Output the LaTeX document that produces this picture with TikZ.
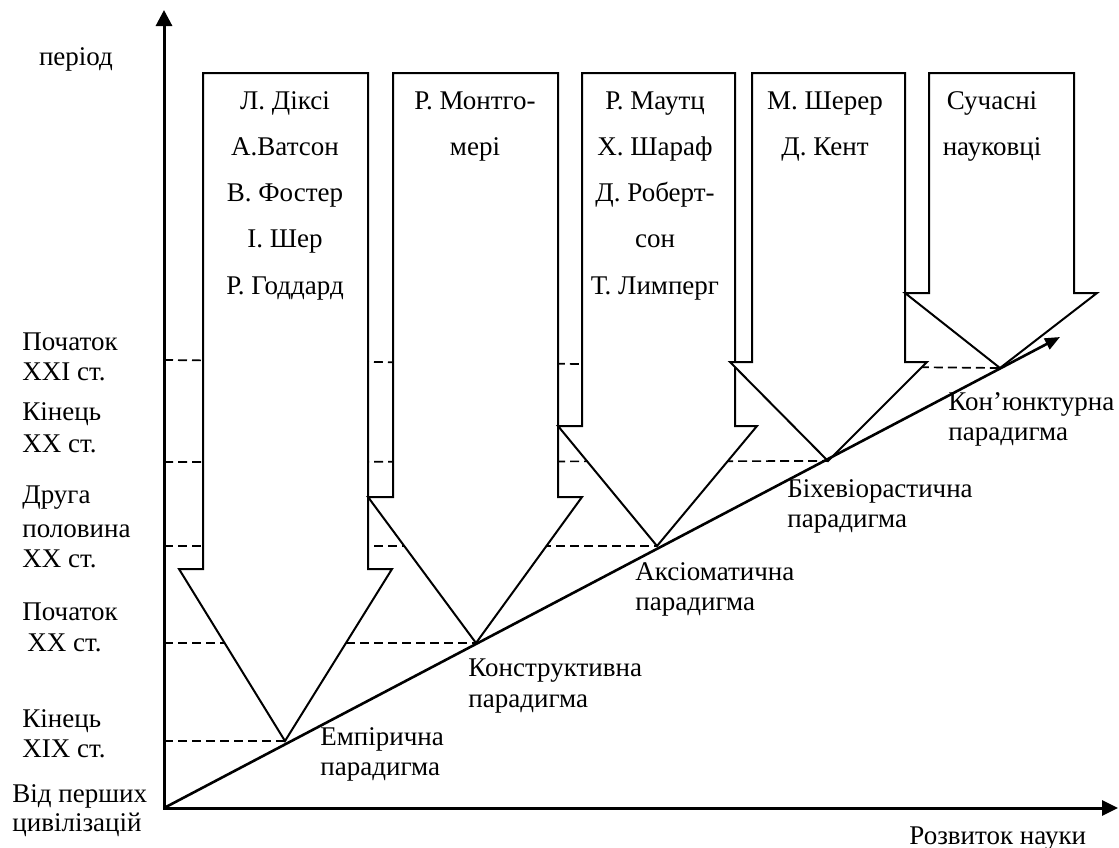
\documentclass[tikz,border=0pt]{standalone}
\usepackage{fontspec}
\setmainfont{Liberation Serif}
\usetikzlibrary{arrows.meta}
\begin{document}
\begin{tikzpicture}[x=0.5pt,y=-0.5pt,
  lbl/.style={font=\fontsize{13.5}{16}\selectfont, inner sep=0pt, anchor=base west},
  ctr/.style={font=\fontsize{13.5}{16}\selectfont, inner sep=0pt, anchor=base},
  axes/.style={line width=1.5pt, line join=miter, {Triangle[length=8pt,width=8pt]}-{Triangle[length=8pt,width=7.5pt]}},
  guide/.style={line width=0.85pt, dash pattern=on 4.5pt off 2.5pt},
  bigarrow/.style={draw, line width=1pt, fill=white, line join=miter},
  trend/.style={line width=1.3pt, -{Triangle[length=7.5pt,width=6pt]}}]
\fill[white] (0,0) rectangle (1119,847);
\useasboundingbox (0,0) rectangle (1119,847);

% key points
\coordinate (O) at (164,808);
\coordinate (Ytop) at (164,10);
\coordinate (Xend) at (1118,808);
\coordinate (Dend) at (1060,337);
\coordinate (t1) at (285,741);
\coordinate (t2) at (476,643);
\coordinate (t3) at (657,546);
\coordinate (t4) at (828,461);
\coordinate (t5) at (1000,368);
\coordinate (d1) at (164,741);
\coordinate (d2) at (164,643);
\coordinate (d3) at (164,546);
\coordinate (d4) at (164,462);
\coordinate (d5) at (164,360);

% dashed guide lines
\draw[guide] (d1) -- (t1);
\draw[guide] (d2) -- (t2);
\draw[guide] (d3) -- (t3);
\draw[guide] (d4) -- (t4);
\draw[guide] (d5) -- (t5);

% block arrows
\draw[bigarrow] (203,73) -- (368,73) -- (368,569) -- (392,569) -- (t1) -- (179,569) -- (203,569) -- cycle;
\draw[bigarrow] (393,73) -- (558,73) -- (558,497) -- (582,497) -- (t2) -- (368,497) -- (393,497) -- cycle;
\draw[bigarrow] (582,73) -- (735,73) -- (735,426) -- (757,426) -- (t3) -- (558,426) -- (582,426) -- cycle;
\draw[bigarrow] (752,73) -- (905,73) -- (905,362) -- (927,362) -- (t4) -- (730,362) -- (752,362) -- cycle;
\draw[bigarrow] (929,73) -- (1074,73) -- (1074,293) -- (1097,293) -- (t5) -- (905,293) -- (929,293) -- cycle;

% axes and trend line
\draw[axes] (Ytop) -- (O) -- (Xend);
\draw[trend] (O) -- (Dend);

% box texts
\node[ctr] (a1l1) at (285,109) {Л. Діксі};
\node[ctr] (a1l2) at (285,155) {А.Ватсон};
\node[ctr] (a1l3) at (285,201) {В. Фостер};
\node[ctr] (a1l4) at (285,247) {І. Шер};
\node[ctr] (a1l5) at (285,294) {Р. Годдард};

\node[ctr] (a2l1) at (475,109) {Р. Монтго-};
\node[ctr] (a2l2) at (475,155) {мері};

\node[ctr] (a3l1) at (655,109) {Р. Маутц};
\node[ctr] (a3l2) at (655,155) {Х. Шараф};
\node[ctr] (a3l3) at (655,201) {Д. Роберт-};
\node[ctr] (a3l4) at (655,247) {сон};
\node[ctr] (a3l5) at (655,294) {Т. Лимперг};

\node[ctr] (a4l1) at (825,109) {М. Шерер};
\node[ctr] (a4l2) at (825,155) {Д. Кент};

\node[ctr] (a5l1) at (992,109) {Сучасні};
\node[ctr] (a5l2) at (992,155) {науковці};

% period labels
\node[ctr] (per) at (76,65) {період};
\node[lbl] (p1a) at (22,350) {Початок};
\node[lbl] (p1b) at (22,380) {XXI ст.};
\node[lbl] (p2a) at (22,420) {Кінець};
\node[lbl] (p2b) at (22,452) {XX ст.};
\node[lbl] (p3a) at (22,503) {Друга};
\node[lbl] (p3b) at (22,537) {половина};
\node[lbl] (p3c) at (22,567) {XX ст.};
\node[lbl] (p4a) at (22,620) {Початок};
\node[lbl] (p4b) at (27,651) {XX ст.};
\node[lbl] (p5a) at (22,727) {Кінець};
\node[lbl] (p5b) at (22,757) {XIX ст.};
\node[lbl] (p6a) at (12,802) {Від перших};
\node[lbl] (p6b) at (12,831) {цивілізацій};

% paradigm labels
\node[lbl] (e1) at (320,745) {Емпірична};
\node[lbl] (e2) at (320,775) {парадигма};
\node[lbl] (k1) at (468,676) {Конструктивна};
\node[lbl] (k2) at (468,707) {парадигма};
\node[lbl] (x1) at (635,580) {Аксіоматична};
\node[lbl] (x2) at (635,610) {парадигма};
\node[lbl] (b1) at (787,497) {Біхевіорастична};
\node[lbl] (b2) at (787,527) {парадигма};
\node[lbl] (c1) at (948,410) {Кон’юнктурна};
\node[lbl] (c2) at (948,440) {парадигма};

\node[lbl] (dev) at (909,844) {Розвиток науки};
\end{tikzpicture}
\end{document}
